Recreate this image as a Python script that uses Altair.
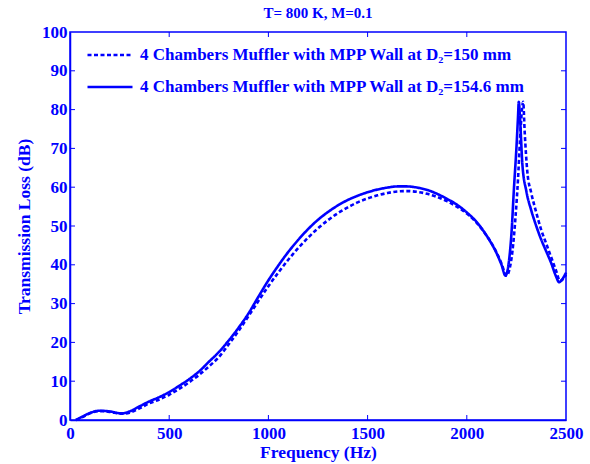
import altair as alt
import pandas as pd

# ---- data ----
series_names = [
    "4 Chambers Muffler with MPP Wall at D\u2082=150 mm",
    "4 Chambers Muffler with MPP Wall at D\u2082=154.6 mm",
]

freq_150 = [30, 60, 100, 150, 200, 260, 300, 350, 400, 450, 500, 550, 600, 650, 700, 750,
            800, 850, 900, 950, 1000, 1050, 1100, 1150, 1200, 1250, 1300, 1350, 1400, 1450,
            1500, 1550, 1600, 1650, 1700, 1750, 1800, 1850, 1900, 1950, 2000, 2050, 2100,
            2150, 2175, 2200, 2215, 2230, 2245, 2258, 2268, 2278, 2284, 2292, 2305, 2325,
            2350, 2375, 2400, 2425, 2450, 2470, 2485, 2500]
tl_150 = [0.0, 0.7, 1.7, 2.3, 2.1, 1.6, 1.9, 3.0, 4.3, 5.3, 6.5, 8.0, 9.7, 11.6, 13.8, 16.2,
          19.5, 23.0, 26.8, 30.7, 34.5, 38.0, 41.3, 44.3, 47.0, 49.4, 51.5, 53.3, 54.8, 56.1,
          57.1, 57.9, 58.5, 58.9, 59.0, 58.8, 58.3, 57.5, 56.4, 55.0, 53.2, 50.8, 47.5,
          43.2, 40.3, 37.2, 38.8, 43.5, 52.0, 62.0, 72.0, 80.0, 82.0, 74.0, 64.0, 58.5,
          53.5, 49.0, 45.5, 42.0, 38.5, 35.8, 36.3, 37.5]

freq_1546 = [30, 60, 100, 150, 200, 260, 300, 350, 400, 450, 500, 550, 600, 650, 700, 750,
             800, 850, 900, 950, 1000, 1050, 1100, 1150, 1200, 1250, 1300, 1350, 1400, 1450,
             1500, 1550, 1600, 1650, 1700, 1750, 1800, 1850, 1900, 1950, 2000, 2050, 2100,
             2150, 2175, 2195, 2210, 2225, 2238, 2250, 2258, 2262, 2268, 2280, 2300, 2325,
             2350, 2375, 2400, 2425, 2450, 2465, 2480, 2500]
tl_1546 = [0.0, 0.8, 1.8, 2.4, 2.2, 1.7, 2.2, 3.5, 4.8, 5.9, 7.2, 8.8, 10.5, 12.5, 15.0, 17.5,
           20.5, 23.8, 27.5, 31.8, 36.0, 39.8, 43.3, 46.4, 49.2, 51.6, 53.6, 55.3, 56.7, 57.8,
           58.7, 59.4, 59.9, 60.2, 60.2, 59.9, 59.3, 58.3, 57.0, 55.5, 53.5, 51.0, 47.5,
           43.0, 40.0, 37.2, 40.0, 48.0, 60.0, 70.0, 78.0, 82.0, 78.0, 66.0, 59.0, 54.0,
           50.0, 46.5, 43.5, 40.5, 37.0, 35.5, 36.2, 38.0]

x_tick_values = [0, 500, 1000, 1500, 2000, 2500]
y_tick_values = [0, 10, 20, 30, 40, 50, 60, 70, 80, 90, 100]
x_inner_ticks = [500, 1000, 1500, 2000]
y_inner_ticks = [10, 20, 30, 40, 50, 60, 70, 80, 90]

# ---- styling ----
W, H = 496, 388
BLUE = "#0000ff"
FONT = "Liberation Serif"
TICK = 5

df = pd.concat([
    pd.DataFrame({"f": freq_150, "tl": tl_150, "series": series_names[0]}),
    pd.DataFrame({"f": freq_1546, "tl": tl_1546, "series": series_names[1]}),
])

x_scale = alt.Scale(domain=[0, 2500], nice=False)
y_scale = alt.Scale(domain=[0, 100], nice=False)

x_axis = alt.Axis(values=x_tick_values, title="Frequency (Hz)", labelFlush=False,
                  format="d", titlePadding=2, labelPadding=5, labelOverlap=False)
y_axis = alt.Axis(values=y_tick_values, title="Transmission Loss (dB)", labelFlush=False,
                  format="d", titlePadding=8, labelPadding=3, labelOverlap=False)

lines = alt.Chart(df).mark_line(strokeWidth=2.6, interpolate="monotone", color=BLUE).encode(
    x=alt.X("f:Q", scale=x_scale, axis=x_axis),
    y=alt.Y("tl:Q", scale=y_scale, axis=y_axis),
    strokeDash=alt.StrokeDash(
        "series:N",
        scale=alt.Scale(domain=series_names, range=[[4, 2.5], [1, 0]]),
        legend=alt.Legend(
            orient="none", legendX=16, legendY=-1, title=None,
            symbolType="stroke", symbolSize=2025, symbolStrokeWidth=2.6,
            symbolStrokeColor=BLUE, symbolFillColor=BLUE,
            labelFont=FONT, labelFontWeight="bold", labelFontSize=17, labelColor=BLUE,
            labelOffset=6, rowPadding=0, labelLimit=600,
        ),
    ),
)

xt = pd.DataFrame({"f": x_inner_ticks})
yt = pd.DataFrame({"tl": y_inner_ticks})

bottom_ticks = alt.Chart(xt).mark_rule(color=BLUE, strokeWidth=1).encode(
    x=alt.X("f:Q", scale=x_scale, axis=x_axis), y=alt.value(H), y2=alt.value(H - TICK))
top_ticks = alt.Chart(xt).mark_rule(color=BLUE, strokeWidth=1).encode(
    x=alt.X("f:Q", scale=x_scale, axis=x_axis), y=alt.value(0), y2=alt.value(TICK))
left_ticks = alt.Chart(yt).mark_rule(color=BLUE, strokeWidth=1).encode(
    y=alt.Y("tl:Q", scale=y_scale, axis=y_axis), x=alt.value(0), x2=alt.value(TICK))
right_ticks = alt.Chart(yt).mark_rule(color=BLUE, strokeWidth=1).encode(
    y=alt.Y("tl:Q", scale=y_scale, axis=y_axis), x=alt.value(W - TICK), x2=alt.value(W))

chart = alt.layer(lines, bottom_ticks, top_ticks, left_ticks, right_ticks).properties(
    width=W, height=H,
    title=alt.TitleParams("T= 800 K, M=0.1", font=FONT, fontSize=15, fontWeight="bold",
                          color=BLUE, anchor="middle", offset=2),
    autosize=alt.AutoSizeParams(type="none"),
    padding={"left": 70, "top": 32, "right": 24, "bottom": 44},
    background="white",
).configure_view(
    stroke=BLUE, strokeWidth=1.5
).configure_axis(
    grid=False, domainColor=BLUE, domainWidth=1.5, tickSize=0,
    labelFont=FONT, labelFontWeight="bold", labelFontSize=17, labelColor=BLUE,
    titleFont=FONT, titleFontWeight="bold", titleFontSize=17.5, titleColor=BLUE,
)

chart.save("out.html", embed_options={"renderer": "svg", "actions": False})
